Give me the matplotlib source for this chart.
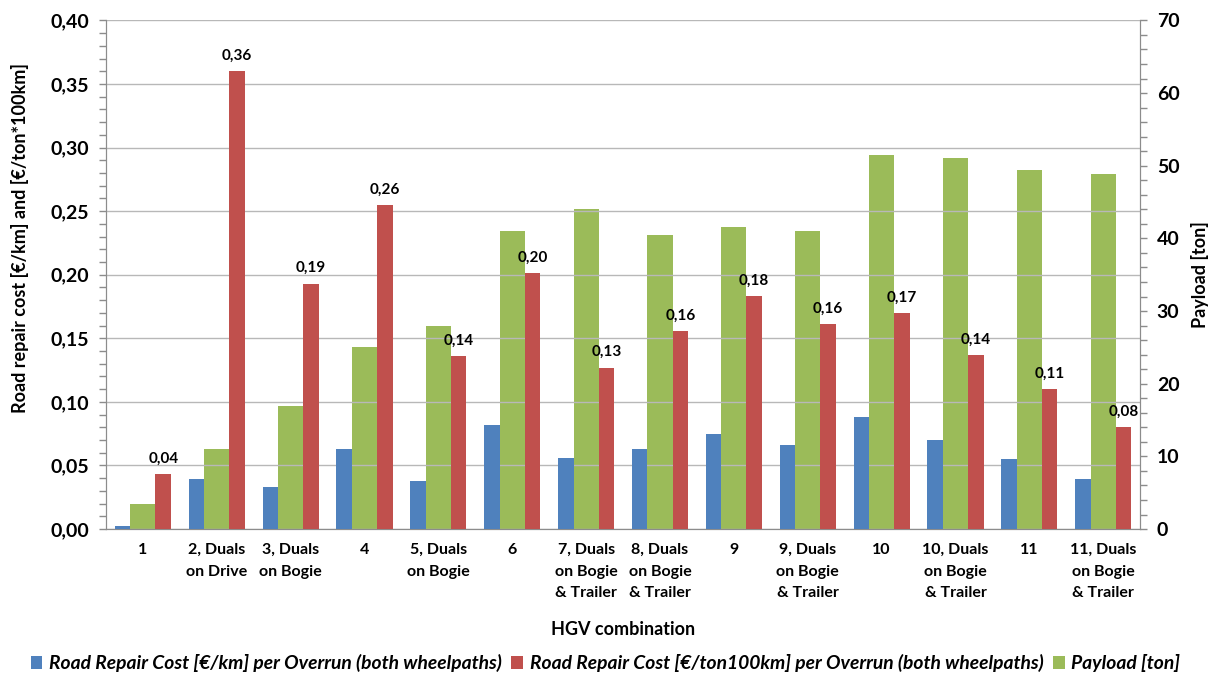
import matplotlib
matplotlib.use("Agg")
import matplotlib.pyplot as plt
import numpy as np
from matplotlib.ticker import MultipleLocator, FuncFormatter

plt.rcParams["font.family"] = ["Lato", "DejaVu Sans"]

# data
categories = ["1", "2, Duals\non Drive", "3, Duals\non Bogie", "4",
              "5, Duals\non Bogie", "6", "7, Duals\non Bogie\n& Trailer",
              "8, Duals\non Bogie\n& Trailer", "9", "9, Duals\non Bogie\n& Trailer",
              "10", "10, Duals\non Bogie\n& Trailer", "11",
              "11, Duals\non Bogie\n& Trailer"]
cost_km = [0.002, 0.039, 0.033, 0.063, 0.038, 0.082, 0.056,
           0.063, 0.075, 0.066, 0.088, 0.070, 0.055, 0.039]
cost_ton = [0.043, 0.360, 0.193, 0.255, 0.136, 0.201, 0.127,
            0.156, 0.183, 0.161, 0.170, 0.137, 0.110, 0.080]
payload = [3.4, 11.0, 16.9, 25.0, 27.9, 41.0, 44.0,
           40.5, 41.5, 41.0, 51.5, 51.0, 49.4, 48.9]

blue = "#4F81BD"
red = "#C0504D"
green = "#9BBB59"

x = np.arange(len(categories))
wb, wg = 0.21, 0.34

fig = plt.figure(figsize=(12.11, 6.80), dpi=100)
ax = fig.add_axes([0.0875, 0.222, 0.854, 0.748])
ax2 = ax.twinx()

ax.bar(x - wg / 2 - wb / 2, cost_km, wb, color=blue, zorder=3,
       label="Road Repair Cost [€/km] per Overrun (both wheelpaths)")
ax.bar(x + wg / 2 + wb / 2, cost_ton, wb, color=red, zorder=3,
       label="Road Repair Cost [€/ton100km] per Overrun (both wheelpaths)")
ax2.bar(x, payload, wg, color=green, zorder=2, label="Payload [ton]")

# red bars above green ones
ax.set_zorder(ax2.get_zorder() + 1)
ax.patch.set_visible(False)

for xi, v in zip(x + wg / 2 + wb / 2, cost_ton):
    ax.annotate(f"{v:.2f}".replace(".", ","), (xi, v), xytext=(0, 6),
                textcoords="offset points", ha="center", va="bottom",
                fontsize=11, fontweight="bold", zorder=5)

ax.set_xlim(-0.5, len(categories) - 0.5)
ax.set_ylim(0, 0.40)
ax2.set_ylim(0, 70)

ax.yaxis.set_major_locator(MultipleLocator(0.05))
ax.yaxis.set_minor_locator(MultipleLocator(0.01))
ax.yaxis.set_major_formatter(FuncFormatter(lambda v, p: f"{v:.2f}".replace(".", ",")))
ax2.yaxis.set_major_locator(MultipleLocator(10))
ax2.yaxis.set_minor_locator(MultipleLocator(2))

ax.grid(axis="y", color="#b8b8b8", linewidth=1.0, zorder=0)
ax.set_axisbelow(True)

ax.set_xticks(x)
ax.set_xticklabels(categories, fontsize=11.5, fontweight="bold", linespacing=1.7)
ax.tick_params(axis="x", length=0, pad=10)
for a in (ax, ax2):
    a.tick_params(axis="y", which="both", length=5, color="#8c8c8c",
                  labelsize=14, width=1, pad=7)
    for t in a.get_yticklabels():
        t.set_fontweight("bold")
    for s in a.spines.values():
        s.set_color("#8c8c8c")
    a.spines["top"].set_visible(False)

ax.set_ylabel("Road repair cost [€/km] and [€/ton*100km]", fontsize=13,
              fontweight="bold")
ax.yaxis.set_label_coords(-0.074, 0.572)
ax2.set_ylabel("Payload [ton]", fontsize=13, fontweight="bold", labelpad=8)
ax.set_xlabel("HGV combination", fontsize=13, fontweight="bold", labelpad=15)

h1, l1 = ax.get_legend_handles_labels()
h2, l2 = ax2.get_legend_handles_labels()
fig.legend(h1 + h2, l1 + l2, loc="center", bbox_to_anchor=(0.5, 0.025),
           ncol=3, frameon=False, handlelength=0.6, handleheight=0.7,
           handletextpad=0.35, columnspacing=0.5,
           prop={"size": 13.9, "weight": "bold", "style": "italic"})

fig.savefig("out.png", dpi=100)
